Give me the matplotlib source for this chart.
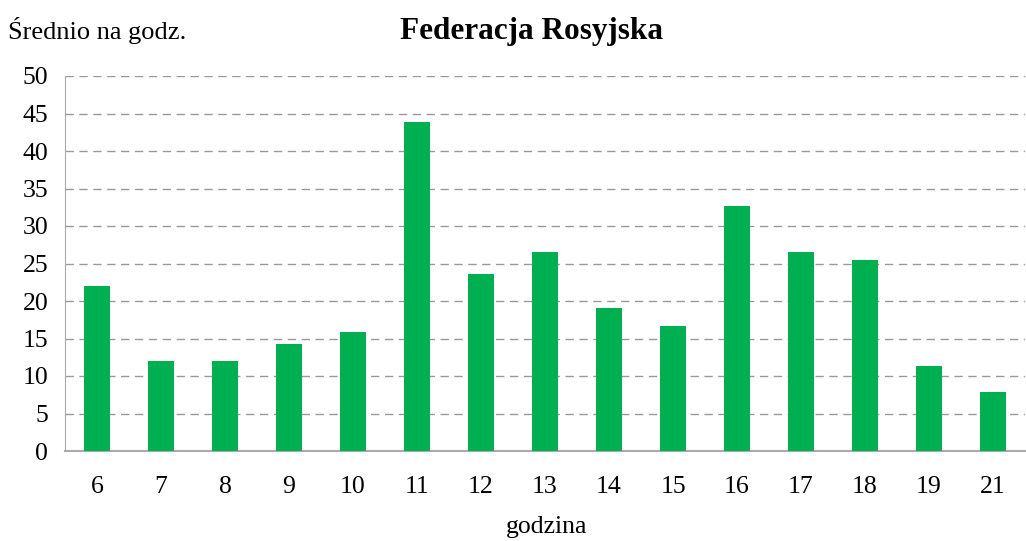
import matplotlib.pyplot as plt
import numpy as np

hours = ["6", "7", "8", "9", "10", "11", "12", "13", "14", "15", "16", "17", "18", "19", "21"]
values = [22.0, 12.0, 12.0, 14.3, 15.9, 43.9, 23.6, 26.6, 19.1, 16.7, 32.7, 26.6, 25.5, 11.4, 7.9]

plt.rcParams['font.family'] = ['Liberation Serif', 'DejaVu Serif']

fig = plt.figure(figsize=(10.26, 5.41), dpi=100)
ax = fig.add_axes([65 / 1026, 1 - 451 / 541, 960 / 1026, 375 / 541])

x = np.arange(len(hours))
ax.bar(x, values, width=0.41, color='#00B050', zorder=3)

ax.set_xlim(-0.5, len(hours) - 0.5)
ax.set_ylim(0, 50)
ax.set_yticks(np.arange(0, 51, 5))
ax.set_xticks(x)
ax.set_xticklabels(hours)
ax.tick_params(axis='both', length=0, labelsize=18.5, colors='black')
ax.tick_params(axis='x', pad=18)
ax.tick_params(axis='y', pad=12)

ax.grid(axis='y', linestyle=(0, (6, 4)), color='#999999', linewidth=1, zorder=0)
for s in ['top', 'right']:
    ax.spines[s].set_visible(False)
ax.spines['left'].set_color('#aaaaaa')
ax.spines['bottom'].set_color('#aaaaaa')
ax.spines['bottom'].set_linewidth(1.5)

fig.text(8 / 1026, 1 - 31 / 541, "Średnio na godz.", fontsize=19, va='center', ha='left')
fig.text(531 / 1026, 1 - 31 / 541, "Federacja Rosyjska", fontsize=22.5, fontweight='bold', va='center', ha='center')
fig.text(547 / 1026, 1 - 527 / 541, "godzina", fontsize=18.5, va='center', ha='center')

fig.savefig("out.png", dpi=100)
